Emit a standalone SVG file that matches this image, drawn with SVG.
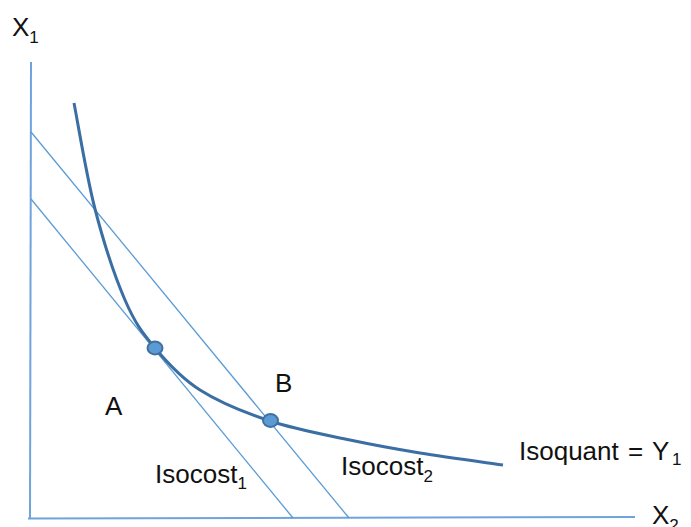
<svg xmlns="http://www.w3.org/2000/svg" width="691" height="527" viewBox="0 0 691 527">
<style>
  .axis{stroke:#6fa3dc;stroke-width:2;fill:none}
  .iso{stroke:#5b9bd5;stroke-width:1.3;fill:none}
  .quant{stroke:#3b6fa3;stroke-width:3;fill:none;stroke-linecap:butt}
  .dot{fill:#5b9bd5;stroke:#41719c;stroke-width:2}
  text{font-family:"Liberation Sans",Arial,sans-serif;font-size:26px;fill:#111}
  .sub{font-size:17px}
</style>
<rect width="691" height="527" fill="#ffffff"/>
<g id="connectors">
  <g id="axes">
    <line class="axis" x1="31" y1="62" x2="30" y2="518"/>
    <line class="axis" x1="28" y1="518.5" x2="635" y2="517"/>
  </g>
  <g id="isocost1-line"><line class="iso" x1="31" y1="199" x2="293" y2="518"/></g>
  <g id="isocost2-line"><line class="iso" x1="31" y1="132" x2="349" y2="518"/></g>
  <g id="isoquant-curve">
    <path class="quant" d="M74,103 C77.5,120.7 86.5,176.2 95,209 C103.5,241.8 115,276.8 125,300 C135,323.2 142.5,333 155,348 C167.5,363 180.8,377.8 200,390 C219.2,402.2 245,412.7 270,421 C295,429.3 325,434.7 350,440 C375,445.3 394.5,448.8 420,453 C445.5,457.2 489.2,463 503,465"/>
  </g>
</g>
<g id="point-A"><ellipse class="dot" cx="155" cy="348" rx="7.5" ry="6.5"/></g>
<g id="point-B"><ellipse class="dot" cx="270.5" cy="420.5" rx="7.5" ry="6.5"/></g>
<g id="label-X1"><text x="12" y="36">X<tspan class="sub" dy="6.5">1</tspan></text></g>
<g id="label-X2"><text x="652" y="524">X<tspan class="sub" dy="6.5">2</tspan></text></g>
<g id="label-A"><text x="105" y="415">A</text></g>
<g id="label-B"><text x="275" y="392">B</text></g>
<g id="label-isocost1"><text x="155" y="483">Isocost<tspan class="sub" dy="5.5">1</tspan></text></g>
<g id="label-isocost2"><text x="341" y="475">Isocost<tspan class="sub" dy="6.5">2</tspan></text></g>
<g id="label-isoquant"><text x="519" y="460">Isoquant <tspan x="628">=</tspan> <tspan x="652">Y</tspan><tspan class="sub" x="672" dy="5">1</tspan></text></g>
</svg>
